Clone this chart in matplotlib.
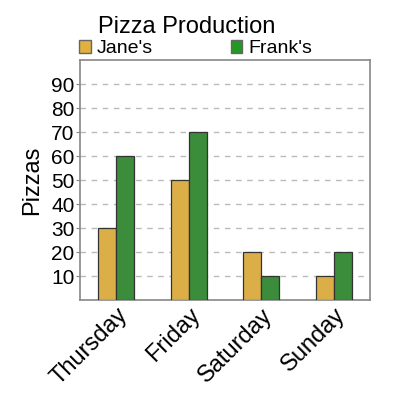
import numpy as np
import matplotlib
matplotlib.use("Agg")
import matplotlib.pyplot as plt
from matplotlib.patches import Patch

plt.rcParams["font.family"] = ["Liberation Sans", "DejaVu Sans"]

days = ["Thursday", "Friday", "Saturday", "Sunday"]
janes = [30, 50, 20, 10]
franks = [60, 70, 10, 20]
yticks = [10, 20, 30, 40, 50, 60, 70, 80, 90]

JANE = "#dcae48"
FRANK = "#3b8d3b"

fig = plt.figure(figsize=(4, 4), dpi=100)
ax = fig.add_axes([0.2, 0.25, 0.725, 0.6])

x = np.arange(len(days))
w = 0.25
ax.bar(x - w / 2, janes, w, color=JANE, edgecolor="#333333", linewidth=0.9, zorder=3)
ax.bar(x + w / 2, franks, w, color=FRANK, edgecolor="#333333", linewidth=0.9, zorder=3)

ax.set_xlim(-0.5, 3.5)
ax.set_ylim(0, 100)
ax.set_yticks(yticks)
ax.set_xticks(x)
ax.set_xticklabels(days, rotation=45, ha="right", rotation_mode="anchor", fontsize=17)
ax.tick_params(axis="y", labelsize=15, color="#888888", length=3, pad=1)
ax.tick_params(axis="x", length=0, pad=3)
ax.yaxis.grid(True, linestyle=(0, (4, 4)), color="#bbbbbb", linewidth=1, zorder=0)
for s in ax.spines.values():
    s.set_color("#888888")
    s.set_linewidth(1.2)
ax.set_ylabel("Pizzas", fontsize=17, labelpad=6)

fig.text(0.245, 0.932, "Pizza Production", fontsize=17, ha="left", va="center")
handles = [Patch(facecolor="#e0b040", edgecolor="#666666", label="Jane's"),
           Patch(facecolor="#229922", edgecolor="#666666", label="Frank's")]
fig.legend(handles=handles, loc="center left", bbox_to_anchor=(0.198, 0.878), ncol=2,
           frameon=False, fontsize=14, handlelength=0.6, handleheight=0.6,
           handletextpad=0.3, columnspacing=4.0, borderpad=0, borderaxespad=0)

fig.savefig("out.png", dpi=100)
